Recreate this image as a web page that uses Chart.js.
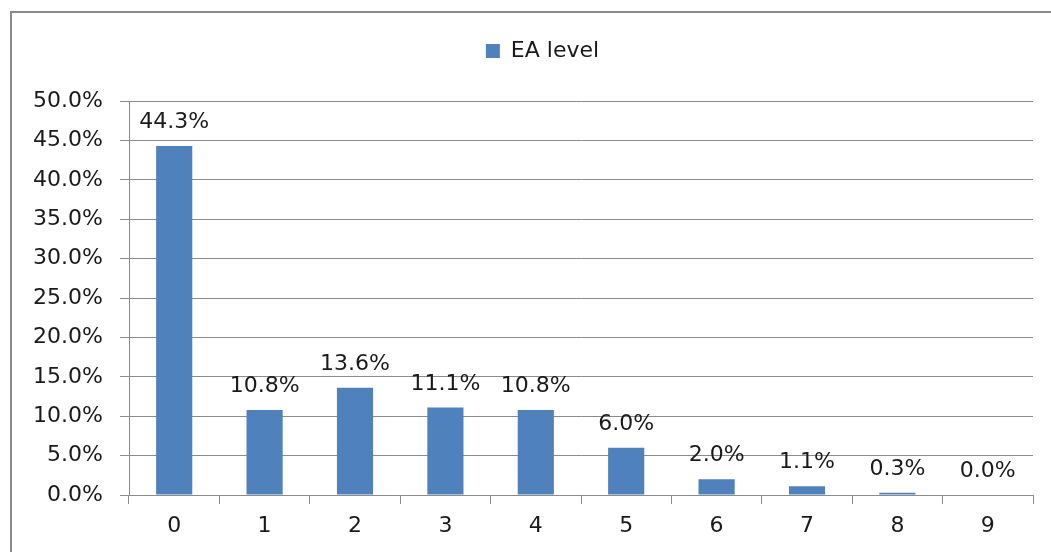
<!DOCTYPE html>
<html>
<head>
<meta charset="utf-8">
<script src="https://cdn.jsdelivr.net/npm/chart.js@4"></script>
<style>
  html, body { margin: 0; padding: 0; background: #fff; }
  #wrap { width: 1051px; height: 552px; }
</style>
</head>
<body>
<div id="wrap"><canvas id="myChart" width="1051" height="552"></canvas></div>
<script>
const categories = ['0', '1', '2', '3', '4', '5', '6', '7', '8', '9'];
const eaLevel = [44.3, 10.8, 13.6, 11.1, 10.8, 6.0, 2.0, 1.1, 0.3, 0.0];
const yTicks = [0, 5, 10, 15, 20, 25, 30, 35, 40, 45, 50];

const FONT = 'DejaVu Sans';
const TEXT = '#1a1a1a';
const GRID = '#8c8c8c';

// frame round the chart (left and top edges only show)
const framePlugin = {
  id: 'frame',
  beforeDraw(chart) {
    const c = chart.ctx;
    c.save();
    c.fillStyle = '#fff';
    c.fillRect(0, 0, chart.width, chart.height);
    c.strokeStyle = '#8a8a8a';
    c.lineWidth = 2;
    c.strokeRect(11, 12, chart.width + 20, chart.height + 20);
    c.restore();
  }
};

// legend in the original sits a bit right of the canvas centre
const legendShift = {
  id: 'legendShift',
  afterLayout(chart) {
    if (chart.legend) chart.legend.left += 52;
  }
};

// value labels above each bar
const valueLabels = {
  id: 'valueLabels',
  afterDatasetsDraw(chart) {
    const c = chart.ctx;
    const meta = chart.getDatasetMeta(0);
    c.save();
    c.font = '22px "' + FONT + '"';
    c.fillStyle = TEXT;
    c.textAlign = 'center';
    c.textBaseline = 'alphabetic';
    meta.data.forEach((bar, i) => {
      c.fillText(eaLevel[i].toFixed(1) + '%', bar.x, bar.y - 18);
    });
    c.restore();
  }
};

new Chart(document.getElementById('myChart').getContext('2d'), {
  type: 'bar',
  data: {
    labels: categories,
    datasets: [{
      label: 'EA level',
      data: eaLevel,
      backgroundColor: '#4f81bd',
      borderWidth: 0,
      barPercentage: 0.4,
      categoryPercentage: 1.0
    }]
  },
  options: {
    responsive: false,
    animation: false,
    layout: { padding: { left: 0, right: 18, top: 30, bottom: 0 } },
    scales: {
      y: {
        min: 0,
        max: 50,
        afterBuildTicks(axis) { axis.ticks = yTicks.map(v => ({ value: v })); },
        afterFit(axis) { axis.width = 129; },
        grid: { color: GRID, lineWidth: 1, tickLength: 9 },
        border: { color: GRID, width: 1 },
        ticks: {
          color: TEXT,
          padding: 17,
          font: { family: FONT, size: 22 },
          callback: v => v.toFixed(1) + '%'
        }
      },
      x: {
        afterFit(axis) { axis.height = 57; },
        grid: { drawOnChartArea: false, color: GRID, tickLength: 9, offset: true },
        border: { color: GRID, width: 1 },
        ticks: {
          color: TEXT,
          padding: 9,
          font: { family: FONT, size: 22 }
        }
      }
    },
    plugins: {
      legend: {
        position: 'top',
        weight: 3000,
        labels: {
          color: TEXT,
          boxWidth: 14,
          boxHeight: 14,
          padding: 10,
          font: { family: FONT, size: 22 }
        }
      },
      // empty title used as a spacer between legend and plot
      title: {
        display: true,
        text: '',
        font: { size: 10, lineHeight: 1 },
        padding: { top: 0, bottom: 19 }
      },
      tooltip: { enabled: false }
    }
  },
  plugins: [framePlugin, legendShift, valueLabels]
});
</script>
</body>
</html>
